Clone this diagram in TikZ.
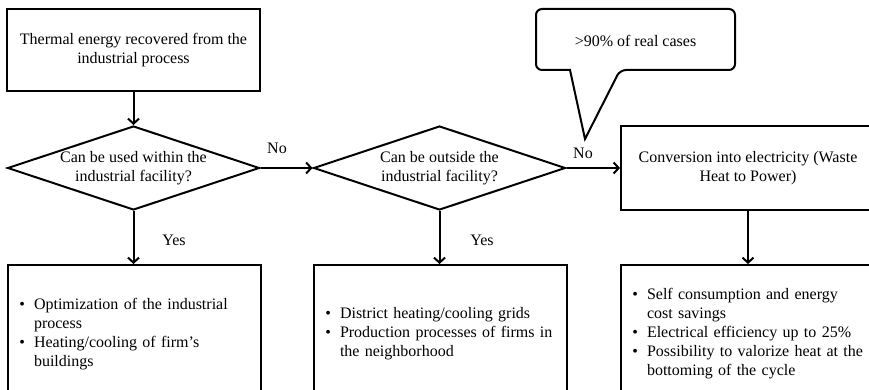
\documentclass[tikz,border=0pt]{standalone}
\usepackage{fontspec}
\setmainfont{Liberation Serif}
\usepackage{enumitem}
\usetikzlibrary{arrows.meta}
\usetikzlibrary{shapes.geometric}

\newcommand{\pointlist}[1]{%
  \begin{itemize}[leftmargin=15pt,labelsep=9pt,itemsep=0pt,topsep=0pt,parsep=0pt,partopsep=0pt]#1\end{itemize}}

\begin{document}
\begin{tikzpicture}[x=1pt,y=-1pt,line width=2pt,
        font=\fontsize{16}{19}\selectfont,
        proc/.style={draw, rectangle, minimum width=253pt, minimum height=#1, inner sep=0pt, align=center},
        decision/.style={draw, diamond, aspect=3, minimum width=252pt, minimum height=84pt, inner sep=0pt, align=center},
        pointbox/.style={draw, rectangle, anchor=north west, minimum height=130pt, text width=#1, inner xsep=11pt, align=left},
        arr/.style={-{Straight Barb[length=5pt,width=11pt]}}]
    \useasboundingbox (0,0) rectangle (869,390);
    \clip (0,0) rectangle (869,390);
    % top row
    \node [proc=82pt] (heat) at (133.5,50) {Thermal energy recovered from the\\industrial process};
    \node [decision] (inside) at (133.5,168) {Can be used within the\\industrial facility?};
    \node [decision] (outside) at (439.5,168) {Can be outside the\\industrial facility?};
    \node [proc=84pt, anchor=west, minimum width=254pt] (conv) at (620,168) {Conversion into electricity (Waste\\Heat to Power)};
    % bottom row
    \node [pointbox=231pt] (listA) at (7,264) {\pointlist{\item Optimization of the industrial\newline process
        \item Heating/cooling of firm’s\newline buildings}};
    \node [pointbox=231pt] (listB) at (313,264) {\pointlist{\item District heating/cooling grids
        \item Production processes of firms in\newline the neighborhood}};
    \node [pointbox=244pt] (listC) at (620,264) {\pointlist{\item Self consumption and energy\newline cost savings
        \item Electrical efficiency up to 25\%
        \item Possibility to valorize heat at the\newline bottoming of the cycle}};
    % callout
    \node (note) at (635.5,41) {>90\% of real cases};
    \draw [rounded corners=6pt] (570,70) -- (536,70) -- (536,9) -- (735,9) -- (735,70) -- (620,70) [sharp corners] -- (585,139) -- cycle;
    % connectors
    \draw [arr] (heat) -- (inside);
    \draw [arr] (inside) -- (outside);
    \draw [arr] (outside) -- (conv);
    \foreach \d/\l in {inside/listA, outside/listB}
        \draw [arr] (\d) -- (\l.north -| \d);
    \draw [arr] (conv) -- (conv.south |- listC.north);
    \node (no1) at (277,148) {No};
    \node (no2) at (583,153) {No};
    \node (yes1) at (174,240) {Yes};
    \node (yes2) at (482,240) {Yes};
\end{tikzpicture}
\end{document}
